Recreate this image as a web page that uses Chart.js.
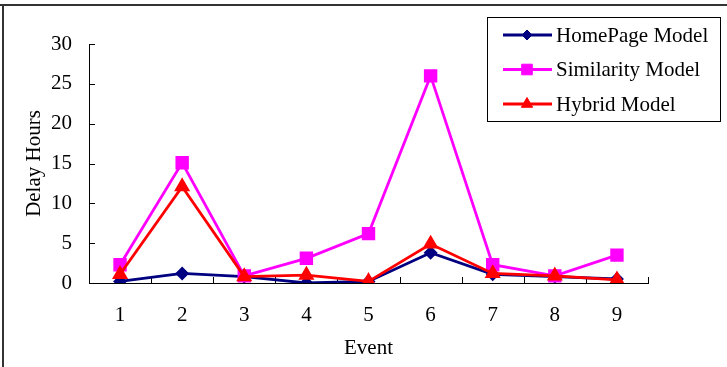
<!DOCTYPE html>
<html>
<head>
<meta charset="utf-8">
<script src="https://cdn.jsdelivr.net/npm/chart.js@4/dist/chart.umd.min.js"></script>
<style>
  html, body { margin: 0; padding: 0; background: #fff; }
  #wrap { width: 727px; height: 367px; position: relative; }
</style>
</head>
<body>
<div id="wrap"><canvas id="c" width="727" height="367"></canvas></div>
<script>
// Event numbers on the x axis
const events = ['1', '2', '3', '4', '5', '6', '7', '8', '9'];

// Delay (hours) per event for each model
const homePageModel   = [0.2, 1.2, 0.8, 0.0, 0.2, 3.8, 1.1, 0.8, 0.5];
const similarityModel = [2.3, 15.1, 0.9, 3.1, 6.2, 26.0, 2.3, 0.9, 3.5];
const hybridModel     = [1.1, 12.1, 0.8, 1.0, 0.2, 4.9, 1.2, 0.9, 0.4];

// Y axis range and step
const yMin = 0, yMax = 30, yStep = 5;

const FONT = '"Liberation Serif", "Times New Roman", serif';

// Outer frame: top and left rules
const framePlugin = {
  id: 'frame',
  beforeDraw(chart) {
    const ctx = chart.ctx;
    ctx.save();
    ctx.fillStyle = '#ffffff';
    ctx.fillRect(0, 0, chart.width, chart.height);
    ctx.strokeStyle = '#333333';
    ctx.lineWidth = 2;
    ctx.beginPath();
    ctx.moveTo(0, 5); ctx.lineTo(chart.width, 5);
    ctx.moveTo(3, 4); ctx.lineTo(3, chart.height);
    ctx.stroke();
    ctx.restore();
  }
};

// Tick marks pointing into the plot area
const innerTicksPlugin = {
  id: 'innerTicks',
  beforeDatasetsDraw(chart) {
    const ctx = chart.ctx;
    const xs = chart.scales.x, ys = chart.scales.y;
    const area = chart.chartArea;
    ctx.save();
    ctx.strokeStyle = '#000000';
    ctx.lineWidth = 1;
    ctx.beginPath();
    ys.ticks.forEach(t => {
      const y = Math.round(ys.getPixelForValue(t.value)) + 0.5;
      ctx.moveTo(area.left, y); ctx.lineTo(area.left + 6, y);
    });
    const n = events.length;
    for (let i = 0; i <= n; i++) {
      let x;
      if (i === 0) x = area.left;
      else if (i === n) x = area.right;
      else x = (xs.getPixelForValue(i - 1) + xs.getPixelForValue(i)) / 2;
      x = Math.round(x) + 0.5;
      ctx.moveTo(x, area.bottom); ctx.lineTo(x, area.bottom - 6);
    }
    ctx.stroke();
    ctx.restore();
  }
};

// Boxed legend in the upper right corner
const boxLegendPlugin = {
  id: 'boxLegend',
  afterDraw(chart) {
    const ctx = chart.ctx;
    const box = { x: 487.5, y: 17.5, w: 233, h: 104 };
    ctx.save();
    ctx.fillStyle = '#ffffff';
    ctx.fillRect(box.x, box.y, box.w, box.h);
    ctx.strokeStyle = '#000000';
    ctx.lineWidth = 1;
    ctx.strokeRect(box.x, box.y, box.w, box.h);
    chart.data.datasets.forEach((ds, i) => {
      const y = 35 + i * 34.5;
      ctx.strokeStyle = ds.borderColor;
      ctx.lineWidth = ds.borderWidth;
      ctx.beginPath();
      ctx.moveTo(503, y); ctx.lineTo(552, y);
      ctx.stroke();
      ctx.fillStyle = ds.pointBackgroundColor;
      ctx.strokeStyle = ds.pointBorderColor;
      ctx.lineWidth = 1;
      Chart.helpers.drawPoint(ctx, { pointStyle: ds.pointStyle, radius: ds.pointRadius, rotation: 0, borderWidth: 1 }, 527, y);
      ctx.fillStyle = '#000000';
      ctx.font = '21px ' + FONT;
      ctx.textBaseline = 'middle';
      ctx.textAlign = 'left';
      ctx.fillText(ds.label, 556, y + 1);
    });
    ctx.restore();
  }
};

new Chart(document.getElementById('c'), {
  type: 'line',
  data: {
    labels: events,
    datasets: [
      {
        label: 'HomePage Model',
        data: homePageModel,
        borderColor: '#000080',
        pointBackgroundColor: '#000080',
        pointBorderColor: '#000080',
        pointStyle: 'rectRot',
        pointRadius: 5,
        borderWidth: 2.8,
        order: 2
      },
      {
        label: 'Similarity Model',
        data: similarityModel,
        borderColor: '#ff00ff',
        pointBackgroundColor: '#ff00ff',
        pointBorderColor: '#ff00ff',
        pointStyle: 'rect',
        pointRadius: 7.5,
        borderWidth: 2.8,
        order: 1
      },
      {
        label: 'Hybrid Model',
        data: hybridModel,
        borderColor: '#ff0000',
        pointBackgroundColor: '#ff0000',
        pointBorderColor: '#ff0000',
        pointStyle: 'triangle',
        pointRadius: 6.5,
        borderWidth: 2.8,
        order: 0
      }
    ]
  },
  options: {
    responsive: false,
    devicePixelRatio: 1,
    animation: false,
    layout: { padding: { top: 44, right: 79, left: 20, bottom: 6 } },
    plugins: {
      legend: { display: false },
      tooltip: { enabled: false }
    },
    elements: { line: { tension: 0 } },
    scales: {
      x: {
        type: 'category',
        offset: true,
        grid: { display: false, drawTicks: false, offset: true },
        border: { display: true, color: '#000000', width: 1 },
        ticks: { color: '#000000', font: { family: FONT, size: 21 }, padding: 20, maxRotation: 0 },
        title: {
          display: true, text: 'Event', color: '#000000',
          font: { family: FONT, size: 21 }, padding: { top: 0, bottom: 0 }
        },
        afterFit(scale) { scale.height = 78; }
      },
      y: {
        min: yMin, max: yMax,
        grid: { display: false, drawTicks: false },
        border: { display: true, color: '#000000', width: 1 },
        ticks: { stepSize: yStep, color: '#000000', font: { family: FONT, size: 21 }, padding: 17 },
        title: {
          display: true, text: 'Delay Hours', color: '#000000',
          font: { family: FONT, size: 21 }, padding: { top: 2, bottom: 0 }
        },
        afterFit(scale) { scale.width = 69; }
      }
    }
  },
  plugins: [framePlugin, innerTicksPlugin, boxLegendPlugin]
});
</script>
</body>
</html>
